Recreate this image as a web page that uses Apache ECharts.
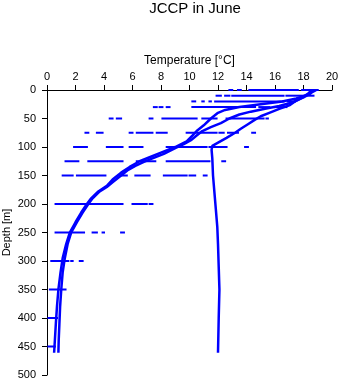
<!DOCTYPE html>
<html>
<head>
<meta charset="utf-8">
<script src="https://cdn.jsdelivr.net/npm/echarts@6/dist/echarts.min.js"></script>
<style>html,body{margin:0;padding:0;background:#fff}#c{width:341px;height:384px}</style>
</head>
<body>
<div id="c"></div>
<script>
// Profiles: [temperature °C, depth m]
const profileA1 = [[18.9,0],[18.3,8],[17.5,15],[16.5,20],[15,25],[13.5,30],[12.5,35],[12.0,40],[11.5,50],[11.0,62],[10.5,72],[10.2,80],[9.8,90],[9.0,100],[8.0,110],[7.2,118],[6.5,125],[5.8,135],[5.2,145],[4.6,157],[4.2,168],[3.6,178],[3.1,190],[2.8,200],[2.4,215],[2.0,232],[1.6,250],[1.35,270],[1.1,295],[0.95,320],[0.8,350],[0.7,380],[0.62,410],[0.55,440],[0.5,461]];
const profileA2 = [[18.6,0],[18.5,6],[18.0,13],[17.2,22],[16.3,28],[15.3,33],[14.3,38],[13.5,43],[12.8,50],[12.2,58],[11.5,65],[10.9,72],[10.5,80],[10.1,88],[9.6,95],[9.0,102],[8.2,112],[7.4,120],[6.8,126],[6.2,133],[5.7,140],[5.2,150],[4.6,162],[4.2,170],[3.7,178],[3.2,190],[2.9,200],[2.5,215],[2.1,232],[1.7,250],[1.45,270],[1.25,295],[1.1,320],[1.0,350],[0.92,380],[0.87,410],[0.82,440],[0.8,461]];
const profileB = [[18.5,0],[18.4,5],[18.0,12],[17.4,20],[17.0,27],[16.3,33],[15.6,40],[15.0,46],[14.6,52],[14.1,60],[13.6,68],[13.2,75],[12.6,84],[12.1,91],[11.6,98],[11.55,105],[11.6,120],[11.65,150],[11.75,180],[11.85,210],[11.95,240],[12.0,270],[12.05,310],[12.1,350],[12.05,400],[12.0,461]];

// Bottle samples at standard depths: [from °C, to °C]
const row0 = [[12.8,13.0],[13.4,13.6],[14.2,17.6],[17.9,19.0]];
const row10 = [[11.9,12.2],[12.5,12.8],[13.0,16.6],[16.8,18.7]];
const row20 = [[10.2,10.4],[10.9,11.0],[11.4,11.5],[11.8,16.6],[16.9,17.4]];
const row30 = [[7.5,7.7],[7.9,8.1],[8.4,8.6],[10.2,14.6],[14.9,15.6],[16.0,16.8]];
const row50 = [[4.4,4.6],[4.9,5.2],[7.2,7.4],[8.1,10.5],[10.9,11.9],[12.6,15.2],[15.4,15.5]];
const row75 = [[2.7,2.9],[3.5,3.9],[5.8,6.0],[6.3,7.4],[7.7,8.4],[9.8,11.9],[12.1,12.4],[12.7,13.4],[14.4,14.6]];
const row100 = [[1.9,2.8],[4.2,5.3],[5.8,6.7],[8.4,11.2],[11.4,12.6],[13.9,14.1]];
const row125 = [[1.3,2.2],[2.9,5.3],[6.3,7.6],[8.4,11.4],[12.3,12.5]];
const row150 = [[1.1,1.8],[2.1,4.1],[5.1,5.6],[6.2,7.2],[8.2,9.8],[10.0,10.4],[11.0,11.2]];
const row200 = [[0.6,5.3],[6.0,7.0],[7.2,7.4]];
const row250 = [[0.6,2.6],[3.2,3.5],[3.9,4.0],[5.2,5.4]];
const row300 = [[0.3,1.5],[1.7,1.8],[2.3,2.5]];
const row350 = [[0.2,1.3]];
const row400 = [[0.1,0.7]];
const row450 = [[0.1,0.55]];
const rowDepths = [0,10,20,30,50,75,100,125,150,200,250,300,350,400,450];
const rows = [row0,row10,row20,row30,row50,row75,row100,row125,row150,row200,row250,row300,row350,row400,row450];

const tempTicks = {min:0, max:20, interval:2};
const depthTicks = {min:0, max:500, interval:50};

const bottleData = [];
rows.forEach((r, i) => r.forEach(s => bottleData.push([s[0], s[1], rowDepths[i]])));

const blue = '#0000ff';
const font = 'Liberation Sans, Arial, Helvetica, sans-serif';
const chart = echarts.init(document.getElementById('c'), null, {renderer:'canvas'});
const lineSeries = d => ({type:'line', data:d, showSymbol:false, symbol:'none', smooth:false,
  lineStyle:{color:blue, width:2.5}, itemStyle:{color:blue}, animation:false, clip:false});
chart.setOption({
  animation:false,
  backgroundColor:'#fff',
  title:{text:'JCCP in June', left:190, top:-4, textAlign:'center',
    textStyle:{fontFamily:font, fontSize:15, fontWeight:'normal', color:'#000'}},
  grid:{left:47, top:90, right:9, bottom:9, containLabel:false, outerBoundsMode:'none'},
  xAxis:{type:'value', position:'top', min:tempTicks.min, max:tempTicks.max, interval:tempTicks.interval,
    name:'Temperature [°C]', nameLocation:'middle', nameGap:23, nameMoveOverlap:false,
    nameTextStyle:{fontFamily:font, fontSize:12, color:'#000'},
    axisLine:{onZero:false, lineStyle:{color:'#000', width:1}},
    axisTick:{show:true, inside:false, length:5, lineStyle:{color:'#000'}},
    axisLabel:{fontFamily:font, fontSize:11, color:'#000', margin:8},
    splitLine:{show:false}},
  yAxis:{type:'value', inverse:true, min:depthTicks.min, max:depthTicks.max, interval:depthTicks.interval,
    name:'Depth [m]', nameLocation:'middle', nameGap:40, nameRotate:90, nameMoveOverlap:false,
    nameTextStyle:{fontFamily:font, fontSize:11, color:'#000', verticalAlign:'middle'},
    axisLine:{onZero:false, lineStyle:{color:'#000', width:1}},
    axisTick:{show:true, inside:false, length:5, lineStyle:{color:'#000'}},
    axisLabel:{fontFamily:font, fontSize:11, color:'#000', margin:11},
    splitLine:{show:false}},
  series:[
    lineSeries(profileA1),
    lineSeries(profileA2),
    lineSeries(profileB),
    {type:'custom', data:bottleData, encode:{x:[0,1], y:2}, animation:false, clip:false,
      renderItem:function(params, api){
        const p0 = api.coord([api.value(0), api.value(2)]);
        const p1 = api.coord([api.value(1), api.value(2)]);
        const w = Math.max(p1[0]-p0[0], 0);
        return {type:'rect', shape:{x:p0[0]-1, y:p0[1]-1, width:w+2, height:2}, style:{fill:blue}};
      }}
  ]
});
</script>
</body>
</html>
